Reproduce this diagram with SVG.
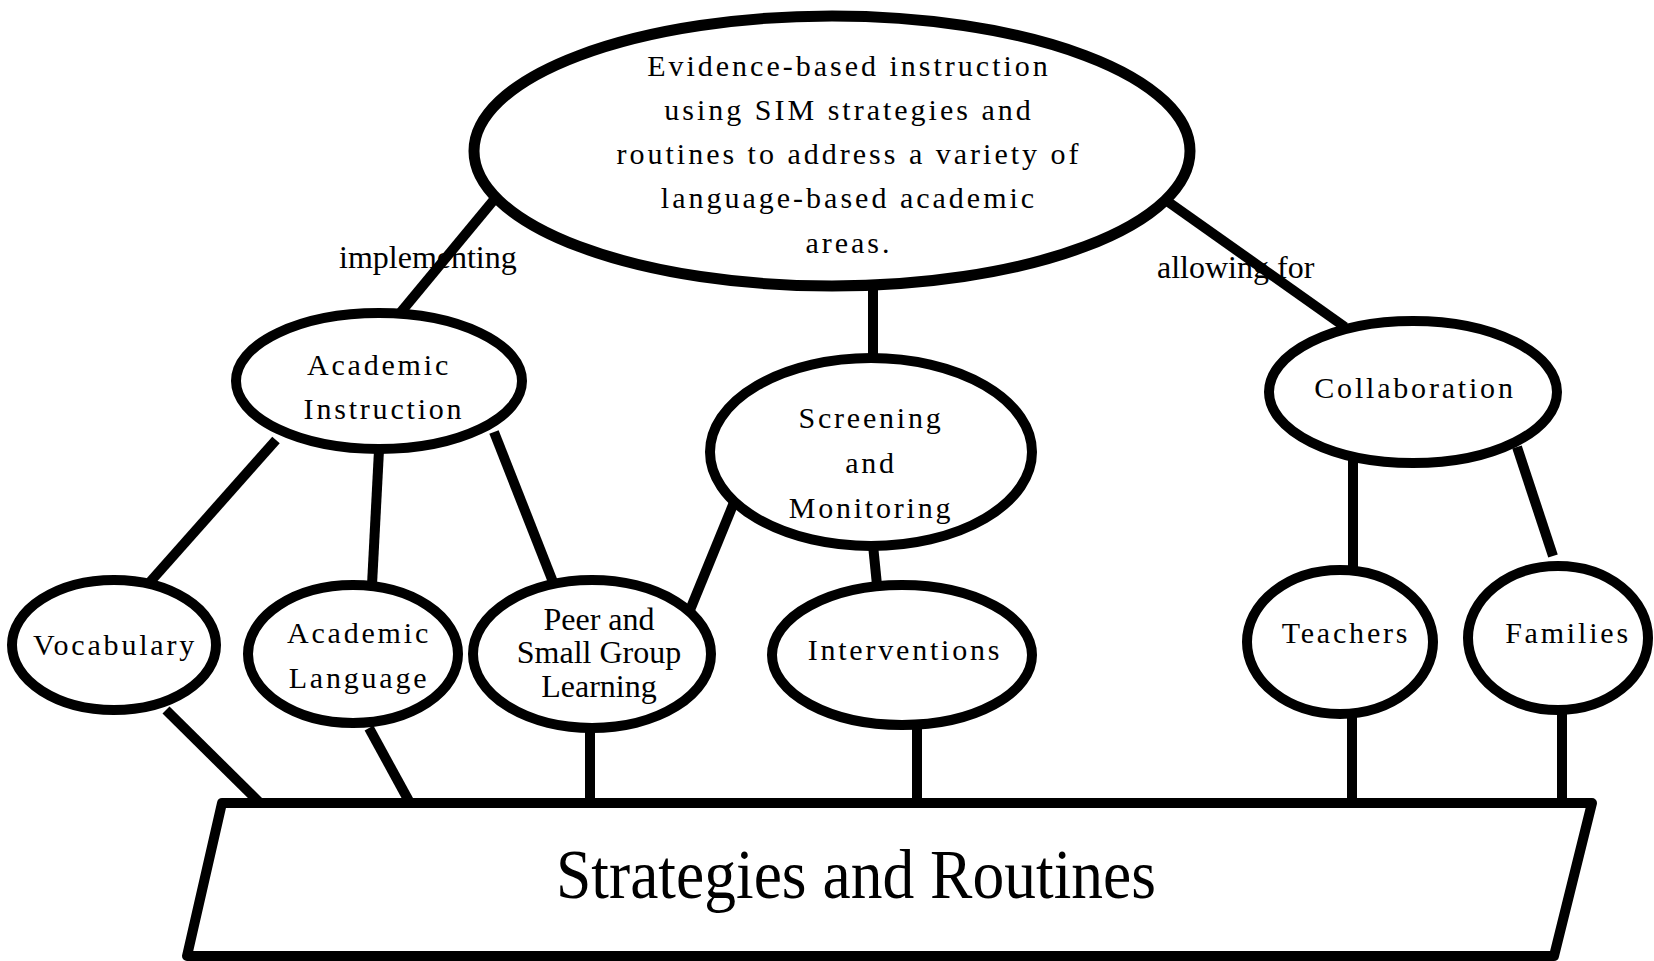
<svg xmlns="http://www.w3.org/2000/svg" width="1654" height="961" viewBox="0 0 1654 961">
<style>
.n{fill:#fff;stroke:#000;stroke-width:10}
.c line{stroke:#000;stroke-width:10;stroke-linecap:butt}
text{font-family:"Liberation Serif","Times New Roman",serif;fill:#000}
.t{font-size:30px;letter-spacing:2.8px;text-anchor:middle}
.p{font-size:32px;text-anchor:middle}
.l{font-size:32px}
</style>
<rect width="1654" height="961" fill="#fff"/>
<g id="labels">
<text class="l" x="339" y="268">implementing</text>
<text class="l" x="1157" y="278">allowing for</text>
</g>
<g id="connectors" class="c">
<line x1="512" y1="178" x2="396" y2="318"/>
<line x1="873" y1="270" x2="873" y2="362"/>
<line x1="1150" y1="189" x2="1345" y2="327"/>
<line x1="276" y1="440" x2="150" y2="582"/>
<line x1="379" y1="450" x2="372" y2="585"/>
<line x1="494" y1="432" x2="553" y2="582"/>
<line x1="735" y1="500" x2="690" y2="610"/>
<line x1="873" y1="545" x2="877" y2="585"/>
<line x1="1353" y1="455" x2="1353" y2="572"/>
<line x1="1517" y1="447" x2="1553" y2="556"/>
<line x1="166" y1="710" x2="260" y2="803"/>
<line x1="369" y1="728" x2="410" y2="803"/>
<line x1="590" y1="730" x2="590" y2="803"/>
<line x1="917" y1="728" x2="917" y2="803"/>
<line x1="1352" y1="712" x2="1352" y2="803"/>
<line x1="1562" y1="710" x2="1562" y2="803"/>
</g>
<g id="top">
<ellipse class="n" style="stroke-width:11" cx="832" cy="151" rx="358" ry="135"/>
<text class="t" style="letter-spacing:3px"><tspan x="849" y="76">Evidence-based instruction</tspan><tspan x="849" y="120">using SIM strategies and</tspan><tspan x="849" y="164">routines to address a variety of</tspan><tspan x="849" y="208">language-based academic</tspan><tspan x="849" y="253">areas.</tspan></text>
</g>
<g id="academic-instruction">
<ellipse class="n" cx="379" cy="381" rx="143" ry="68"/>
<text class="t"><tspan x="379" y="375">Academic</tspan><tspan x="384" y="419">Instruction</tspan></text>
</g>
<g id="screening">
<ellipse class="n" cx="871" cy="452" rx="161" ry="94"/>
<text class="t"><tspan x="871" y="428">Screening</tspan><tspan x="871" y="473">and</tspan><tspan x="871" y="518">Monitoring</tspan></text>
</g>
<g id="collaboration">
<ellipse class="n" cx="1413" cy="392" rx="144" ry="71"/>
<text class="t" x="1415" y="398">Collaboration</text>
</g>
<g id="vocabulary">
<ellipse class="n" cx="114" cy="645" rx="102" ry="65"/>
<text class="t" x="115" y="655">Vocabulary</text>
</g>
<g id="academic-language">
<ellipse class="n" cx="353" cy="654" rx="105" ry="69"/>
<text class="t"><tspan x="359" y="643">Academic</tspan><tspan x="359" y="688">Language</tspan></text>
</g>
<g id="peer">
<ellipse class="n" cx="592" cy="654" rx="119" ry="74"/>
<text class="p"><tspan x="599" y="630">Peer and</tspan><tspan x="599" y="663">Small Group</tspan><tspan x="599" y="697">Learning</tspan></text>
</g>
<g id="interventions">
<ellipse class="n" cx="902" cy="655" rx="130" ry="70"/>
<text class="t" x="905" y="660">Interventions</text>
</g>
<g id="teachers">
<ellipse class="n" cx="1340" cy="642" rx="93" ry="72"/>
<text class="t" x="1346" y="643">Teachers</text>
</g>
<g id="families">
<ellipse class="n" cx="1558" cy="638" rx="90" ry="72"/>
<text class="t" x="1568" y="643">Families</text>
</g>
<g id="strategies">
<polygon class="n" style="stroke-linejoin:round" points="222,803 1592,803 1554,956 187,956"/>
<text x="856" y="898" font-size="70" text-anchor="middle" textLength="600" lengthAdjust="spacingAndGlyphs">Strategies and Routines</text>
</g>
</svg>
